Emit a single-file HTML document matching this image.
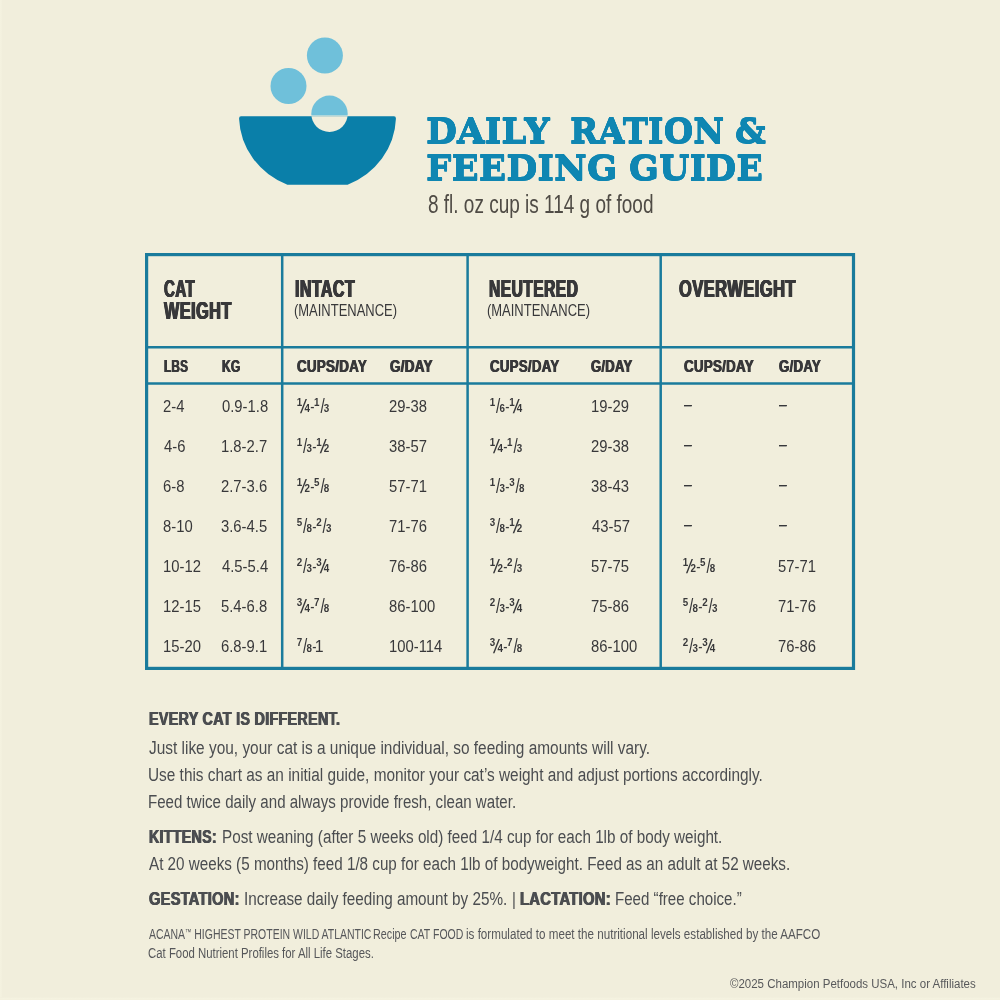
<!DOCTYPE html>
<html lang="en"><head><meta charset="utf-8"><title>Daily Ration &amp; Feeding Guide</title>
<style>
html,body{margin:0;padding:0;}
body{width:1000px;height:1000px;background:#f1eedc;position:relative;overflow:hidden;font-family:'Liberation Sans', sans-serif;}
.t{position:absolute;white-space:nowrap;line-height:1;transform-origin:0 0;margin:0;}
.n,.d,.sl,.sc,.hy{position:relative;line-height:0;}
.sc{font-size:19.4px;top:1.2px;margin:0 -1.6px 0 .3px;display:inline-block;transform:scaleX(.8);transform-origin:0 50%;}
.n{font-size:10px;top:-5.5px;font-weight:700;left:-.3px;}
.d{font-size:10px;top:.2px;font-weight:700;}
.sl{font-size:19.4px;top:1.2px;margin:0 -1.85px 0 -1.55px;display:inline-block;transform:skewX(-7deg);transform-origin:50% 50%;}
.hy{margin:0 -.5px 0 -.3px;display:inline-block;transform:scaleX(.8);}
.dash{text-shadow:0 .45px 0 currentColor,0 -.45px 0 currentColor;}
.l1{margin-left:-1.6px;}
.b{text-shadow:.55px 0 0 currentColor,-.55px 0 0 currentColor;letter-spacing:.35px;}
.bh{letter-spacing:.7px;text-shadow:.85px 0 0 currentColor,-.85px 0 0 currentColor,.4px 0 0 currentColor,-.4px 0 0 currentColor;}
.r{}
.ttl{-webkit-text-stroke:.35px currentColor;text-shadow:0 1.3px 0 currentColor,0 -1.3px 0 currentColor,0 .6px 0 currentColor,0 -.6px 0 currentColor;}
.tm{font-size:.6em;position:relative;top:-.55em;}
svg{position:absolute;left:0;top:0;}
.edge{position:absolute;}
</style></head>
<body>
<svg width="1000" height="1000" viewBox="0 0 1000 1000">
<!-- bowl icon -->
<circle cx="324.9" cy="55.5" r="18" fill="#6fc0da"/>
<circle cx="288.5" cy="86" r="18" fill="#6fc0da"/>
<defs><clipPath id="ca"><rect x="300" y="90" width="60" height="25.6"/></clipPath><clipPath id="cb"><rect x="300" y="116.3" width="60" height="30"/></clipPath></defs>
<circle cx="329.5" cy="113.8" r="18.2" fill="#6fc0da" clip-path="url(#ca)"/>
<path d="M241 116.3 H394 Q396.2 116.3 395.9 119 A78.5 74 0 0 1 347.6 184.7 H287.4 A78.5 74 0 0 1 239.1 119 Q238.8 116.3 241 116.3 Z" fill="#0a7fa9"/>
<circle cx="329.5" cy="113.8" r="18.2" fill="#f1eedc" clip-path="url(#cb)"/>
<!-- table grid -->
<g fill="none" stroke="#1a7b9c">
<rect x="146.6" y="254.6" width="706.9" height="413.8" stroke-width="3.2"/>
<g stroke-width="2.5">
<line x1="282.2" y1="254" x2="282.2" y2="668"/>
<line x1="467.6" y1="254" x2="467.6" y2="668"/>
<line x1="660.7" y1="254" x2="660.7" y2="668"/>
<line x1="146" y1="347.2" x2="854" y2="347.2"/>
<line x1="146" y1="383.6" x2="854" y2="383.6"/>
</g></g>
</svg>

<div class="edge" style="left:0;top:0;width:2px;height:1000px;background:linear-gradient(to right,#f3f0de,#f5f3e1 50%,#f1eedc)"></div>
<div class="edge" style="left:0;top:997px;width:1000px;height:3px;background:linear-gradient(to bottom,#f1eedc,#f5f3e1 60%,#f3f0de)"></div>
<main>
<div class="t ttl" style="left:425.94px;top:115.00px;font-family:'DejaVu Serif', 'Liberation Serif', serif;font-size:33.7px;font-weight:700;color:#0f86b2;transform:scaleX(1.0598)">DAILY</div>
<div class="t ttl" style="left:569.99px;top:115.00px;font-family:'DejaVu Serif', 'Liberation Serif', serif;font-size:33.7px;font-weight:700;color:#0f86b2;transform:scaleX(1.0066)">RATION</div>
<div class="t ttl" style="left:734.59px;top:115.00px;font-family:'DejaVu Serif', 'Liberation Serif', serif;font-size:33.7px;font-weight:700;color:#0f86b2;transform:scaleX(1.0138)">&amp;</div>
<div class="t ttl" style="left:425.93px;top:152.00px;font-family:'DejaVu Serif', 'Liberation Serif', serif;font-size:33.7px;font-weight:700;color:#0f86b2;transform:scaleX(1.0655)">FEEDING</div>
<div class="t ttl" style="left:628.96px;top:152.00px;font-family:'DejaVu Serif', 'Liberation Serif', serif;font-size:33.7px;font-weight:700;color:#0f86b2;transform:scaleX(1.0397)">GUIDE</div>
<div class="t r" style="left:427.84px;top:192.00px;font-family:'Liberation Sans', sans-serif;font-size:25px;font-weight:400;color:#4f4b45;transform:scaleX(0.7593)">8 fl. oz cup is 114 g of food</div>
<div class="t bh" style="left:163.60px;top:277.50px;font-family:'Liberation Sans', sans-serif;font-size:23px;font-weight:700;color:#38383a;transform:scaleX(0.6542)">CAT</div>
<div class="t bh" style="left:164.31px;top:300.00px;font-family:'Liberation Sans', sans-serif;font-size:23px;font-weight:700;color:#38383a;transform:scaleX(0.7052)">WEIGHT</div>
<div class="t bh" style="left:295.31px;top:277.50px;font-family:'Liberation Sans', sans-serif;font-size:23px;font-weight:700;color:#38383a;transform:scaleX(0.6930)">INTACT</div>
<div class="t r" style="left:294.23px;top:303.40px;font-family:'Liberation Sans', sans-serif;font-size:16.8px;font-weight:400;color:#38383a;transform:scaleX(0.7727)">(MAINTENANCE)</div>
<div class="t bh" style="left:488.72px;top:277.50px;font-family:'Liberation Sans', sans-serif;font-size:23px;font-weight:700;color:#38383a;transform:scaleX(0.6763)">NEUTERED</div>
<div class="t r" style="left:487.23px;top:303.40px;font-family:'Liberation Sans', sans-serif;font-size:16.8px;font-weight:400;color:#38383a;transform:scaleX(0.7727)">(MAINTENANCE)</div>
<div class="t bh" style="left:679.40px;top:277.50px;font-family:'Liberation Sans', sans-serif;font-size:23px;font-weight:700;color:#38383a;transform:scaleX(0.7146)">OVERWEIGHT</div>
<div class="t b" style="left:164.40px;top:357.60px;font-family:'Liberation Sans', sans-serif;font-size:17px;font-weight:700;color:#38383a;transform:scaleX(0.6914)">LBS</div>
<div class="t b" style="left:221.60px;top:357.60px;font-family:'Liberation Sans', sans-serif;font-size:17px;font-weight:700;color:#38383a;transform:scaleX(0.7077)">KG</div>
<div class="t b" style="left:297.00px;top:357.60px;font-family:'Liberation Sans', sans-serif;font-size:17px;font-weight:700;color:#38383a;transform:scaleX(0.7865)">CUPS/DAY</div>
<div class="t b" style="left:389.60px;top:357.60px;font-family:'Liberation Sans', sans-serif;font-size:17px;font-weight:700;color:#38383a;transform:scaleX(0.7926)">G/DAY</div>
<div class="t b" style="left:490.00px;top:357.60px;font-family:'Liberation Sans', sans-serif;font-size:17px;font-weight:700;color:#38383a;transform:scaleX(0.7798)">CUPS/DAY</div>
<div class="t b" style="left:591.00px;top:357.60px;font-family:'Liberation Sans', sans-serif;font-size:17px;font-weight:700;color:#38383a;transform:scaleX(0.7667)">G/DAY</div>
<div class="t b" style="left:683.60px;top:357.60px;font-family:'Liberation Sans', sans-serif;font-size:17px;font-weight:700;color:#38383a;transform:scaleX(0.7843)">CUPS/DAY</div>
<div class="t b" style="left:779.00px;top:357.60px;font-family:'Liberation Sans', sans-serif;font-size:17px;font-weight:700;color:#38383a;transform:scaleX(0.7778)">G/DAY</div>
<div class="t r" style="left:163.28px;top:397.60px;font-family:'Liberation Sans', sans-serif;font-size:16.2px;font-weight:400;color:#38383a;transform:scaleX(0.9150)">2-4</div>
<div class="t r" style="left:221.60px;top:397.60px;font-family:'Liberation Sans', sans-serif;font-size:16.2px;font-weight:400;color:#38383a;transform:scaleX(0.9150)">0.9-1.8</div>
<div class="t fr" style="left:296.80px;top:397.60px;font-family:'Liberation Sans', sans-serif;font-size:16.2px;font-weight:400;color:#38383a;transform:scaleX(0.9800)"><span class="n">1</span><span class="sl">/</span><span class="d">4</span><span class="hy">-</span><span class="n">1</span><span class="sc">/</span><span class="d">3</span></div>
<div class="t r" style="left:389.08px;top:397.60px;font-family:'Liberation Sans', sans-serif;font-size:16.2px;font-weight:400;color:#38383a;transform:scaleX(0.9150)">29-38</div>
<div class="t fr" style="left:489.70px;top:397.60px;font-family:'Liberation Sans', sans-serif;font-size:16.2px;font-weight:400;color:#38383a;transform:scaleX(0.9800)"><span class="n">1</span><span class="sc">/</span><span class="d">6</span><span class="hy">-</span><span class="n">1</span><span class="sl">/</span><span class="d">4</span></div>
<div class="t r" style="left:591.09px;top:397.60px;font-family:'Liberation Sans', sans-serif;font-size:16.2px;font-weight:400;color:#38383a;transform:scaleX(0.9150)">19-29</div>
<div class="t dash" style="left:683.60px;top:396.40px;font-family:'Liberation Sans', sans-serif;font-size:16.2px;font-weight:400;color:#38383a;transform:scaleX(0.8444)">&ndash;</div>
<div class="t dash" style="left:778.80px;top:396.40px;font-family:'Liberation Sans', sans-serif;font-size:16.2px;font-weight:400;color:#38383a;transform:scaleX(0.8444)">&ndash;</div>
<div class="t r" style="left:164.20px;top:437.60px;font-family:'Liberation Sans', sans-serif;font-size:16.2px;font-weight:400;color:#38383a;transform:scaleX(0.9150)">4-6</div>
<div class="t r" style="left:220.69px;top:437.60px;font-family:'Liberation Sans', sans-serif;font-size:16.2px;font-weight:400;color:#38383a;transform:scaleX(0.9150)">1.8-2.7</div>
<div class="t fr" style="left:296.80px;top:437.60px;font-family:'Liberation Sans', sans-serif;font-size:16.2px;font-weight:400;color:#38383a;transform:scaleX(0.9800)"><span class="n">1</span><span class="sc">/</span><span class="d">3</span><span class="hy">-</span><span class="n">1</span><span class="sl">/</span><span class="d">2</span></div>
<div class="t r" style="left:389.08px;top:437.60px;font-family:'Liberation Sans', sans-serif;font-size:16.2px;font-weight:400;color:#38383a;transform:scaleX(0.9150)">38-57</div>
<div class="t fr" style="left:489.70px;top:437.60px;font-family:'Liberation Sans', sans-serif;font-size:16.2px;font-weight:400;color:#38383a;transform:scaleX(0.9800)"><span class="n">1</span><span class="sl">/</span><span class="d">4</span><span class="hy">-</span><span class="n">1</span><span class="sc">/</span><span class="d">3</span></div>
<div class="t r" style="left:591.09px;top:437.60px;font-family:'Liberation Sans', sans-serif;font-size:16.2px;font-weight:400;color:#38383a;transform:scaleX(0.9150)">29-38</div>
<div class="t dash" style="left:683.60px;top:436.40px;font-family:'Liberation Sans', sans-serif;font-size:16.2px;font-weight:400;color:#38383a;transform:scaleX(0.8444)">&ndash;</div>
<div class="t dash" style="left:778.80px;top:436.40px;font-family:'Liberation Sans', sans-serif;font-size:16.2px;font-weight:400;color:#38383a;transform:scaleX(0.8444)">&ndash;</div>
<div class="t r" style="left:163.28px;top:477.60px;font-family:'Liberation Sans', sans-serif;font-size:16.2px;font-weight:400;color:#38383a;transform:scaleX(0.9150)">6-8</div>
<div class="t r" style="left:220.69px;top:477.60px;font-family:'Liberation Sans', sans-serif;font-size:16.2px;font-weight:400;color:#38383a;transform:scaleX(0.9150)">2.7-3.6</div>
<div class="t fr" style="left:296.80px;top:477.60px;font-family:'Liberation Sans', sans-serif;font-size:16.2px;font-weight:400;color:#38383a;transform:scaleX(0.9800)"><span class="n">1</span><span class="sl">/</span><span class="d">2</span><span class="hy">-</span><span class="n">5</span><span class="sc">/</span><span class="d">8</span></div>
<div class="t r" style="left:389.08px;top:477.60px;font-family:'Liberation Sans', sans-serif;font-size:16.2px;font-weight:400;color:#38383a;transform:scaleX(0.9150)">57-71</div>
<div class="t fr" style="left:489.70px;top:477.60px;font-family:'Liberation Sans', sans-serif;font-size:16.2px;font-weight:400;color:#38383a;transform:scaleX(0.9800)"><span class="n">1</span><span class="sc">/</span><span class="d">3</span><span class="hy">-</span><span class="n">3</span><span class="sc">/</span><span class="d">8</span></div>
<div class="t r" style="left:591.09px;top:477.60px;font-family:'Liberation Sans', sans-serif;font-size:16.2px;font-weight:400;color:#38383a;transform:scaleX(0.9150)">38-43</div>
<div class="t dash" style="left:683.60px;top:476.40px;font-family:'Liberation Sans', sans-serif;font-size:16.2px;font-weight:400;color:#38383a;transform:scaleX(0.8444)">&ndash;</div>
<div class="t dash" style="left:778.80px;top:476.40px;font-family:'Liberation Sans', sans-serif;font-size:16.2px;font-weight:400;color:#38383a;transform:scaleX(0.8444)">&ndash;</div>
<div class="t r" style="left:163.28px;top:517.60px;font-family:'Liberation Sans', sans-serif;font-size:16.2px;font-weight:400;color:#38383a;transform:scaleX(0.9150)">8-10</div>
<div class="t r" style="left:220.69px;top:517.60px;font-family:'Liberation Sans', sans-serif;font-size:16.2px;font-weight:400;color:#38383a;transform:scaleX(0.9150)">3.6-4.5</div>
<div class="t fr" style="left:296.80px;top:517.60px;font-family:'Liberation Sans', sans-serif;font-size:16.2px;font-weight:400;color:#38383a;transform:scaleX(0.9800)"><span class="n">5</span><span class="sc">/</span><span class="d">8</span><span class="hy">-</span><span class="n">2</span><span class="sc">/</span><span class="d">3</span></div>
<div class="t r" style="left:389.08px;top:517.60px;font-family:'Liberation Sans', sans-serif;font-size:16.2px;font-weight:400;color:#38383a;transform:scaleX(0.9150)">71-76</div>
<div class="t fr" style="left:489.70px;top:517.60px;font-family:'Liberation Sans', sans-serif;font-size:16.2px;font-weight:400;color:#38383a;transform:scaleX(0.9800)"><span class="n">3</span><span class="sc">/</span><span class="d">8</span><span class="hy">-</span><span class="n">1</span><span class="sl">/</span><span class="d">2</span></div>
<div class="t r" style="left:592.00px;top:517.60px;font-family:'Liberation Sans', sans-serif;font-size:16.2px;font-weight:400;color:#38383a;transform:scaleX(0.9150)">43-57</div>
<div class="t dash" style="left:683.60px;top:516.40px;font-family:'Liberation Sans', sans-serif;font-size:16.2px;font-weight:400;color:#38383a;transform:scaleX(0.8444)">&ndash;</div>
<div class="t dash" style="left:778.80px;top:516.40px;font-family:'Liberation Sans', sans-serif;font-size:16.2px;font-weight:400;color:#38383a;transform:scaleX(0.8444)">&ndash;</div>
<div class="t r" style="left:163.28px;top:557.60px;font-family:'Liberation Sans', sans-serif;font-size:16.2px;font-weight:400;color:#38383a;transform:scaleX(0.9150)">10-12</div>
<div class="t r" style="left:221.60px;top:557.60px;font-family:'Liberation Sans', sans-serif;font-size:16.2px;font-weight:400;color:#38383a;transform:scaleX(0.9150)">4.5-5.4</div>
<div class="t fr" style="left:296.80px;top:557.60px;font-family:'Liberation Sans', sans-serif;font-size:16.2px;font-weight:400;color:#38383a;transform:scaleX(0.9800)"><span class="n">2</span><span class="sc">/</span><span class="d">3</span><span class="hy">-</span><span class="n">3</span><span class="sl">/</span><span class="d">4</span></div>
<div class="t r" style="left:389.08px;top:557.60px;font-family:'Liberation Sans', sans-serif;font-size:16.2px;font-weight:400;color:#38383a;transform:scaleX(0.9150)">76-86</div>
<div class="t fr" style="left:489.70px;top:557.60px;font-family:'Liberation Sans', sans-serif;font-size:16.2px;font-weight:400;color:#38383a;transform:scaleX(0.9800)"><span class="n">1</span><span class="sl">/</span><span class="d">2</span><span class="hy">-</span><span class="n">2</span><span class="sc">/</span><span class="d">3</span></div>
<div class="t r" style="left:591.09px;top:557.60px;font-family:'Liberation Sans', sans-serif;font-size:16.2px;font-weight:400;color:#38383a;transform:scaleX(0.9150)">57-75</div>
<div class="t fr" style="left:683.10px;top:557.60px;font-family:'Liberation Sans', sans-serif;font-size:16.2px;font-weight:400;color:#38383a;transform:scaleX(0.9800)"><span class="n">1</span><span class="sl">/</span><span class="d">2</span><span class="hy">-</span><span class="n">5</span><span class="sc">/</span><span class="d">8</span></div>
<div class="t r" style="left:778.09px;top:557.60px;font-family:'Liberation Sans', sans-serif;font-size:16.2px;font-weight:400;color:#38383a;transform:scaleX(0.9150)">57-71</div>
<div class="t r" style="left:163.28px;top:597.60px;font-family:'Liberation Sans', sans-serif;font-size:16.2px;font-weight:400;color:#38383a;transform:scaleX(0.9150)">12-15</div>
<div class="t r" style="left:220.69px;top:597.60px;font-family:'Liberation Sans', sans-serif;font-size:16.2px;font-weight:400;color:#38383a;transform:scaleX(0.9150)">5.4-6.8</div>
<div class="t fr" style="left:296.80px;top:597.60px;font-family:'Liberation Sans', sans-serif;font-size:16.2px;font-weight:400;color:#38383a;transform:scaleX(0.9800)"><span class="n">3</span><span class="sl">/</span><span class="d">4</span><span class="hy">-</span><span class="n">7</span><span class="sc">/</span><span class="d">8</span></div>
<div class="t r" style="left:389.08px;top:597.60px;font-family:'Liberation Sans', sans-serif;font-size:16.2px;font-weight:400;color:#38383a;transform:scaleX(0.9150)">86-100</div>
<div class="t fr" style="left:489.70px;top:597.60px;font-family:'Liberation Sans', sans-serif;font-size:16.2px;font-weight:400;color:#38383a;transform:scaleX(0.9800)"><span class="n">2</span><span class="sc">/</span><span class="d">3</span><span class="hy">-</span><span class="n">3</span><span class="sl">/</span><span class="d">4</span></div>
<div class="t r" style="left:591.09px;top:597.60px;font-family:'Liberation Sans', sans-serif;font-size:16.2px;font-weight:400;color:#38383a;transform:scaleX(0.9150)">75-86</div>
<div class="t fr" style="left:683.10px;top:597.60px;font-family:'Liberation Sans', sans-serif;font-size:16.2px;font-weight:400;color:#38383a;transform:scaleX(0.9800)"><span class="n">5</span><span class="sc">/</span><span class="d">8</span><span class="hy">-</span><span class="n">2</span><span class="sc">/</span><span class="d">3</span></div>
<div class="t r" style="left:778.09px;top:597.60px;font-family:'Liberation Sans', sans-serif;font-size:16.2px;font-weight:400;color:#38383a;transform:scaleX(0.9150)">71-76</div>
<div class="t r" style="left:163.28px;top:637.60px;font-family:'Liberation Sans', sans-serif;font-size:16.2px;font-weight:400;color:#38383a;transform:scaleX(0.9150)">15-20</div>
<div class="t r" style="left:220.69px;top:637.60px;font-family:'Liberation Sans', sans-serif;font-size:16.2px;font-weight:400;color:#38383a;transform:scaleX(0.9150)">6.8-9.1</div>
<div class="t fr" style="left:296.80px;top:637.60px;font-family:'Liberation Sans', sans-serif;font-size:16.2px;font-weight:400;color:#38383a;transform:scaleX(0.9800)"><span class="n">7</span><span class="sc">/</span><span class="d">8</span><span class="hy">-</span><span class="l1">1</span></div>
<div class="t r" style="left:389.08px;top:637.60px;font-family:'Liberation Sans', sans-serif;font-size:16.2px;font-weight:400;color:#38383a;transform:scaleX(0.9150)">100-114</div>
<div class="t fr" style="left:489.70px;top:637.60px;font-family:'Liberation Sans', sans-serif;font-size:16.2px;font-weight:400;color:#38383a;transform:scaleX(0.9800)"><span class="n">3</span><span class="sl">/</span><span class="d">4</span><span class="hy">-</span><span class="n">7</span><span class="sc">/</span><span class="d">8</span></div>
<div class="t r" style="left:591.09px;top:637.60px;font-family:'Liberation Sans', sans-serif;font-size:16.2px;font-weight:400;color:#38383a;transform:scaleX(0.9150)">86-100</div>
<div class="t fr" style="left:683.10px;top:637.60px;font-family:'Liberation Sans', sans-serif;font-size:16.2px;font-weight:400;color:#38383a;transform:scaleX(0.9800)"><span class="n">2</span><span class="sc">/</span><span class="d">3</span><span class="hy">-</span><span class="n">3</span><span class="sl">/</span><span class="d">4</span></div>
<div class="t r" style="left:778.09px;top:637.60px;font-family:'Liberation Sans', sans-serif;font-size:16.2px;font-weight:400;color:#38383a;transform:scaleX(0.9150)">76-86</div>
<div class="t b" style="left:149.30px;top:710.80px;font-family:'Liberation Sans', sans-serif;font-size:17.6px;font-weight:700;color:#4b4d50;transform:scaleX(0.8158)">EVERY CAT IS DIFFERENT.</div>
<div class="t r" style="left:148.80px;top:740.40px;font-family:'Liberation Sans', sans-serif;font-size:17.6px;font-weight:400;color:#4b4d50;transform:scaleX(0.8763)">Just like you, your cat is a unique individual, so feeding amounts will vary.</div>
<div class="t r" style="left:148.43px;top:767.30px;font-family:'Liberation Sans', sans-serif;font-size:17.6px;font-weight:400;color:#4b4d50;transform:scaleX(0.8740)">Use this chart as an initial guide, monitor your cat&rsquo;s weight and adjust portions accordingly.</div>
<div class="t r" style="left:148.44px;top:794.00px;font-family:'Liberation Sans', sans-serif;font-size:17.6px;font-weight:400;color:#4b4d50;transform:scaleX(0.8574)">Feed twice daily and always provide fresh, clean water.</div>
<div class="t b" style="left:149.30px;top:829.10px;font-family:'Liberation Sans', sans-serif;font-size:17.6px;font-weight:700;color:#4b4d50;transform:scaleX(0.8096)">KITTENS:</div>
<div class="t r" style="left:222.33px;top:829.10px;font-family:'Liberation Sans', sans-serif;font-size:17.6px;font-weight:400;color:#4b4d50;transform:scaleX(0.8671)">Post weaning (after 5 weeks old) feed 1/4 cup for each 1lb of body weight.</div>
<div class="t r" style="left:148.80px;top:856.10px;font-family:'Liberation Sans', sans-serif;font-size:17.6px;font-weight:400;color:#4b4d50;transform:scaleX(0.8649)">At 20 weeks (5 months) feed 1/8 cup for each 1lb of bodyweight. Feed as an adult at 52 weeks.</div>
<div class="t b" style="left:149.30px;top:891.30px;font-family:'Liberation Sans', sans-serif;font-size:17.6px;font-weight:700;color:#4b4d50;transform:scaleX(0.8296)">GESTATION:</div>
<div class="t r" style="left:243.93px;top:891.30px;font-family:'Liberation Sans', sans-serif;font-size:17.6px;font-weight:400;color:#4b4d50;transform:scaleX(0.8684)">Increase daily feeding amount by 25%.</div>
<div class="t r" style="left:511.95px;top:891.30px;font-family:'Liberation Sans', sans-serif;font-size:17.6px;font-weight:400;color:#4b4d50;transform:scaleX(0.8500)">|</div>
<div class="t b" style="left:520.20px;top:891.30px;font-family:'Liberation Sans', sans-serif;font-size:17.6px;font-weight:700;color:#4b4d50;transform:scaleX(0.8393)">LACTATION:</div>
<div class="t r" style="left:615.14px;top:891.30px;font-family:'Liberation Sans', sans-serif;font-size:17.6px;font-weight:400;color:#4b4d50;transform:scaleX(0.8582)">Feed &ldquo;free choice.&rdquo;</div>
<div class="t r" style="left:148.80px;top:928.20px;font-family:'Liberation Sans', sans-serif;font-size:13.8px;font-weight:400;color:#56575a;transform:scaleX(0.7592)">ACANA<span class="tm">&trade;</span> HIGHEST PROTEIN WILD ATLANTIC</div>
<div class="t r" style="left:373.42px;top:928.20px;font-family:'Liberation Sans', sans-serif;font-size:13.8px;font-weight:400;color:#56575a;transform:scaleX(0.7810)">Recipe</div>
<div class="t r" style="left:410.44px;top:928.20px;font-family:'Liberation Sans', sans-serif;font-size:13.8px;font-weight:400;color:#56575a;transform:scaleX(0.7618)">CAT FOOD</div>
<div class="t r" style="left:465.96px;top:928.20px;font-family:'Liberation Sans', sans-serif;font-size:13.8px;font-weight:400;color:#56575a;transform:scaleX(0.8430)">is formulated to meet the nutritional levels established by the AAFCO</div>
<div class="t r" style="left:147.98px;top:947.40px;font-family:'Liberation Sans', sans-serif;font-size:13.8px;font-weight:400;color:#56575a;transform:scaleX(0.8250)">Cat Food Nutrient Profiles for All Life Stages.</div>
<div class="t r" style="left:729.80px;top:978.40px;font-family:'Liberation Sans', sans-serif;font-size:12px;font-weight:400;color:#58595b;transform:scaleX(0.9570)">&copy;2025 Champion Petfoods USA, Inc or Affiliates</div>
</main>
</body></html>
